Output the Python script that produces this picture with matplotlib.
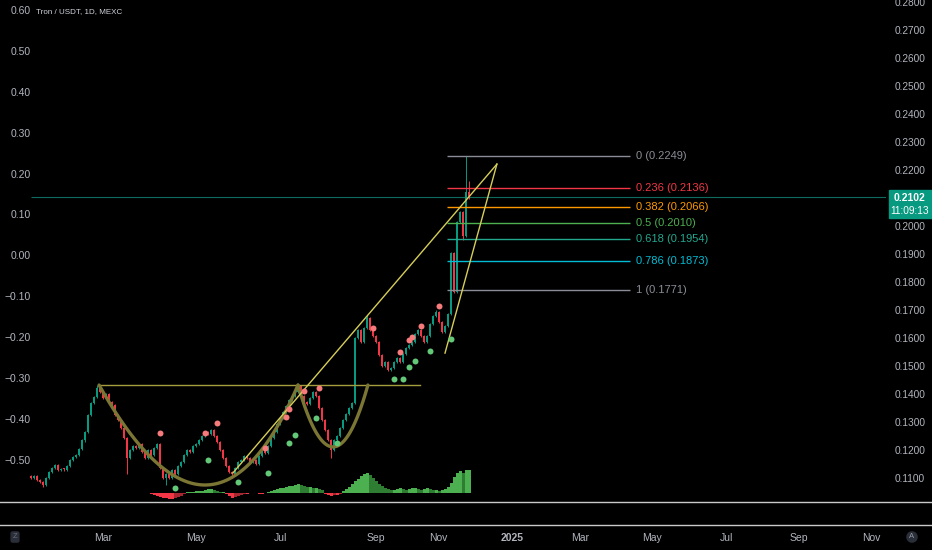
import numpy as np
import matplotlib
matplotlib.use("Agg")
import matplotlib.pyplot as plt
from matplotlib import font_manager as fm
from matplotlib.patches import Rectangle
from matplotlib.lines import Line2D

# ---- data (TRX/USDT daily, one value per bar) ----
closes = [
    0.1100, 0.1107, 0.1093, 0.1086, 0.1075, 0.1100, 0.1121, 0.1136, 0.1146, 0.1129,
    0.1132, 0.1129, 0.1143, 0.1164, 0.1175, 0.1182, 0.1204, 0.1236, 0.1264, 0.1325,
    0.1368, 0.1389, 0.1421, 0.1407, 0.1386, 0.1400, 0.1371, 0.1361, 0.1325, 0.1307,
    0.1279, 0.1243, 0.1171, 0.1200, 0.1214, 0.1207, 0.1221, 0.1193, 0.1171, 0.1200,
    0.1182, 0.1207, 0.1221, 0.1136, 0.1100, 0.1114, 0.1100, 0.1129, 0.1114, 0.1143,
    0.1157, 0.1182, 0.1200, 0.1193, 0.1214, 0.1221, 0.1236, 0.1250, 0.1264, 0.1257,
    0.1271, 0.1250, 0.1229, 0.1200, 0.1171, 0.1143, 0.1121, 0.1114, 0.1136, 0.1157,
    0.1164, 0.1179, 0.1171, 0.1157, 0.1164, 0.1150, 0.1179, 0.1200, 0.1189, 0.1214,
    0.1243, 0.1264, 0.1293, 0.1314, 0.1336, 0.1357, 0.1379, 0.1393, 0.1407, 0.1429,
    0.1393, 0.1371, 0.1364, 0.1386, 0.1407, 0.1393, 0.1350, 0.1307, 0.1271, 0.1236,
    0.1200, 0.1236, 0.1250, 0.1279, 0.1307, 0.1329, 0.1350, 0.1368, 0.1600, 0.1629,
    0.1586, 0.1636, 0.1671, 0.1629, 0.1607, 0.1586, 0.1539, 0.1500, 0.1514, 0.1486,
    0.1493, 0.1514, 0.1529, 0.1514, 0.1543, 0.1564, 0.1575, 0.1586, 0.1614, 0.1629,
    0.1607, 0.1586, 0.1607, 0.1650, 0.1679, 0.1693, 0.1657, 0.1621, 0.1643, 0.1686,
    0.1904, 0.1764, 0.2014, 0.2050, 0.1964, 0.2121, 0.2102,
]
first_open = 0.1107
# long wicks (bar index -> price)
hi_wicks = {22: 0.1432, 89: 0.1432, 108: 0.1600, 112: 0.1682, 135: 0.1700,
            140: 0.1907, 145: 0.2249, 146: 0.2160}
lo_wicks = {4: 0.1068, 18: 0.1229, 32: 0.1114, 45: 0.1075, 67: 0.1100,
            100: 0.1171, 141: 0.1760, 144: 0.1950}

# oscillator histogram, starts at bar 40
hist_start = 40
hist_vals = [
    -1, -2, -3, -4, -5, -5, -6, -6, -5, -4, -3, -1,
    1, 1, 1, 2, 2, 2, 3, 4, 4, 3,
    2, 1, 1,
    -1, -3, -5, -4, -3, -2, -1, -1,
    0.5, 0.5, 0.5, -0.5, -0.5, 0.5,
    1, 2, 3, 4, 5, 5, 6, 7, 7, 8, 9,
    8, 7, 6, 6, 5, 5, 4, 3,
    -1, -2, -3, -2, -2, -1,
    2, 4, 6, 9, 12, 14, 17, 19, 20,
    18, 15, 12, 9, 7, 5,
    4, 3, 3, 4, 5, 4, 3, 4, 5, 5, 4, 3, 4, 5, 4, 3, 3, 2, 3, 4,
    6, 10, 16, 20, 22, 20, 23, 23,
]

# signal dots
sell_idx = [43, 58, 62, 78, 85, 86, 91, 96, 114, 123, 126, 127, 130, 136]
sell_px = [0.1261, 0.1261, 0.1296, 0.1207, 0.1318, 0.1346, 0.1411, 0.1421,
           0.1636, 0.1550, 0.1593, 0.1604, 0.1643, 0.1714]
buy_idx = [48, 59, 69, 79, 86, 88, 95, 102, 121, 124, 126, 128, 133, 140]
buy_px = [0.1064, 0.1164, 0.1086, 0.1118, 0.1225, 0.1254, 0.1314, 0.1225,
          0.1454, 0.1454, 0.1496, 0.1518, 0.1554, 0.1596]

# drawings (bar index, price)
neckline = [(22.7, 0.1432), (129.7, 0.1432)]
cup = [(22.7, 0.1432), (58.0, 0.1075), (89.0, 0.1432)]
handle = [(89.0, 0.1432), (100.7, 0.1211), (112.3, 0.1432)]
wedge_top = [(67.3, 0.1118), (155.3, 0.2221)]
wedge_bot = [(138.0, 0.1546), (155.3, 0.2221)]

fib_high, fib_low = 0.2249, 0.1771
fib_levels = [0, 0.236, 0.382, 0.5, 0.618, 0.786, 1]
fib_colors = ['#8a8d96', '#f23645', '#ff9800', '#4caf50', '#22a88f', '#00bcd4', '#8a8d96']

month_pos = [24.0, 55.0, 83.0, 115.0, 135.7, 160.3, 183.0, 207.0, 231.7, 256.0, 280.0]
month_lbl = ['Mar', 'May', 'Jul', 'Sep', 'Nov', '2025', 'Mar', 'May', 'Jul', 'Sep', 'Nov']
right_ticks = [0.11, 0.12, 0.13, 0.14, 0.15, 0.16, 0.17, 0.18, 0.19, 0.20,
               0.21, 0.22, 0.23, 0.24, 0.25, 0.26, 0.27, 0.28]
left_ticks = [-0.5, -0.4, -0.3, -0.2, -0.1, 0.0, 0.1, 0.2, 0.3, 0.4, 0.5, 0.6]

# ---- fonts ----
names = {f.name for f in fm.fontManager.ttflist}
fam = ['Liberation Sans Narrow', 'DejaVu Sans'] if 'Liberation Sans Narrow' in names else ['Liberation Sans', 'DejaVu Sans']
plt.rcParams['font.family'] = fam

W, H = 932, 550
txt = '#b2b5be'
up, down = '#089981', '#f23645'

fig = plt.figure(figsize=(W / 100, H / 100), dpi=100, facecolor='black')
pane_bottom = 501
ax = fig.add_axes([0, (H - pane_bottom) / H, 886 / W, pane_bottom / H])
ax.set_facecolor('black')
ax.set_xlim(-31 / 3, (886 - 31) / 3)
ax.set_ylim(0.28 - pane_bottom / 2800 + 2 / 2800, 0.28 + 2 / 2800)
for s in ax.spines.values():
    s.set_visible(False)

# candles
n = len(closes)
idx = np.arange(n)
opens = np.array([first_open] + closes[:-1])
cl = np.array(closes)
highs = np.maximum(opens, cl) + 0.0004
lows = np.minimum(opens, cl) - 0.0004
for k, v in hi_wicks.items():
    highs[k] = max(highs[k], v)
for k, v in lo_wicks.items():
    lows[k] = min(lows[k], v)
cols = np.where(cl >= opens, up, down)
ax.vlines(idx, lows, highs, colors=cols, lw=0.7, zorder=3)
body = np.where(np.abs(cl - opens) < 0.0003, 0.0003, cl - opens)
ax.bar(idx, body, bottom=opens, width=0.75, color=cols, zorder=3, linewidth=0)

# current price line
ax.hlines(closes[-1], 0, ax.get_xlim()[1], colors='#0d6b5d', lw=0.8, zorder=2)

# signal dots
ax.plot(sell_idx, sell_px, 'o', ms=4.3, color='#f77b7b', mec='none', zorder=6)
ax.plot(buy_idx, buy_px, 'o', ms=4.3, color='#63c979', mec='none', zorder=6)


def arc(pts, n_pts=100):
    (x0, y0), (xb, yb), (x2, y2) = pts
    cx = 2 * xb - 0.5 * (x0 + x2)
    cy = 2 * yb - 0.5 * (y0 + y2)
    t = np.linspace(0, 1, n_pts)
    x = (1 - t) ** 2 * x0 + 2 * (1 - t) * t * cx + t ** 2 * x2
    y = (1 - t) ** 2 * y0 + 2 * (1 - t) * t * cy + t ** 2 * y2
    return x, y


for shape in (cup, handle):
    xs, ys = arc(shape)
    ax.plot(xs, ys, color='#7c7634', lw=2.4, zorder=5, solid_capstyle='round')
ax.plot(*zip(*neckline), color='#a59d3e', lw=1.0, zorder=4)
ax.plot(*zip(*wedge_top), color='#d6ce58', lw=1.0, zorder=5)
ax.plot(*zip(*wedge_bot), color='#d6ce58', lw=1.0, zorder=5)

# fibonacci retracement
for lvl, c in zip(fib_levels, fib_colors):
    p = fib_high - lvl * (fib_high - fib_low)
    ax.hlines(p, 138.7, 199.7, colors=c, lw=1.0, zorder=4)
    ax.text(201.7, p, f"{lvl:g} ({p:.4f})", color=c, fontsize=8, va='center', ha='left')

# time scale
ax.set_xticks(month_pos)
ax.set_xticklabels(month_lbl)
ax.tick_params(axis='x', length=0, pad=23, labelcolor=txt, labelsize=7.5)
for t in ax.get_xticklabels():
    if t.get_text() == '2025':
        t.set_fontweight('bold')

# left scale (overlay indicator)
ax2 = ax.twinx()
ax2.set_ylim(0.60 - 491 * 0.1 / 40.9, 0.60 + 10 * 0.1 / 40.9)
ax2.yaxis.tick_left()
ax2.set_yticks(left_ticks)
ax2.set_yticklabels([f"{v:.2f}".replace('-', '\u2212') for v in left_ticks])
ax2.tick_params(axis='y', length=0, pad=-22, labelcolor=txt, labelsize=7.5)
for s in ax2.spines.values():
    s.set_visible(False)

# right price scale (after twinx, which moves the main ticks)
ax.yaxis.tick_right()
ax.yaxis.set_label_position('right')
ax.set_yticks(right_ticks)
ax.set_yticklabels([f"{v:.4f}" for v in right_ticks])
ax.tick_params(axis='y', which='both', left=False, labelleft=False, right=True,
               labelright=True, length=0, pad=6, labelcolor=txt, labelsize=7.3)

# histogram
hax = fig.add_axes([0, (H - pane_bottom) / H, 886 / W, 51 / H], sharex=ax)
hax.set_ylim(-8, 43)
hax.axis('off')
hv = np.array(hist_vals, dtype=float)
hx = np.arange(hist_start, hist_start + len(hv))
prev = np.concatenate([[0], hv[:-1]])
hcols = []
for v, pv in zip(hv, prev):
    if v >= 0:
        hcols.append('#4caf50' if v >= pv else '#2e7d32')
    else:
        hcols.append('#f23645' if v <= pv else '#a8262f')
hax.bar(hx, hv, width=1.0, color=hcols, linewidth=0)

# pane separators
for yy in (pane_bottom + 0.5, 524.5):
    fig.add_artist(Line2D([0, 1], [1 - yy / H, 1 - yy / H], transform=fig.transFigure,
                          color='#c9c9c9', lw=1.0))

# last price badge
fig.add_artist(Rectangle((889 / W, 1 - 218 / H), 43 / W, 28 / H,
                         transform=fig.transFigure, color='#089981', zorder=10))
fig.text(910 / W, 1 - 198 / H, f"{closes[-1]:.4f}", color='white', fontsize=7.5,
         fontweight='bold', ha='center', va='center', zorder=11)
fig.text(910 / W, 1 - 211 / H, "11:09:13", color='white', fontsize=7.3,
         ha='center', va='center', zorder=11)

# header and small widgets
fig.text(36 / W, 1 - 12 / H, "Tron / USDT, 1D, MEXC", color='#d1d4dc', fontsize=5.8,
         va='center', ha='left')
fig.text(15 / W, 1 - 537 / H, "Z", color='#6b6e78', fontsize=5.5, ha='center', va='center',
         bbox=dict(boxstyle='round,pad=0.3', fc='#2a2e39', ec='none'))
fig.text(912 / W, 1 - 537 / H, "A", color='#9598a1', fontsize=5.5, ha='center', va='center',
         bbox=dict(boxstyle='circle,pad=0.3', fc='#2a2e39', ec='none'))

fig.savefig('out.png', dpi=100, facecolor='black')
